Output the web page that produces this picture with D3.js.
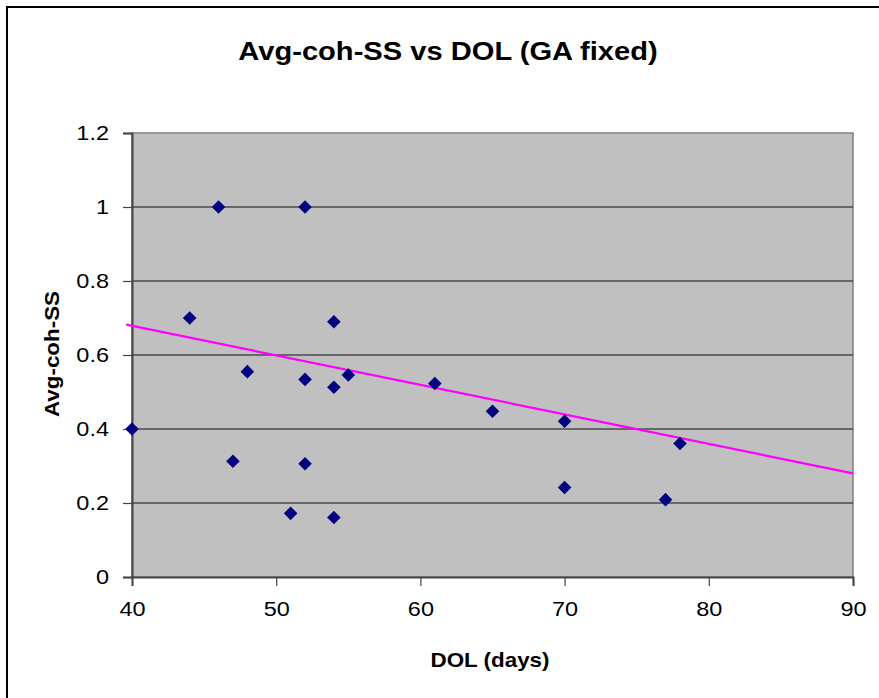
<!DOCTYPE html>
<html><head><meta charset="utf-8">
<script src="https://cdn.jsdelivr.net/npm/d3@7"></script>
<style>body{margin:0;background:#fff}svg{display:block}text{font-family:"Liberation Sans",Arial,sans-serif}</style>
</head><body>
<script>
const dol = [40,44,46,47,48,51,52,52,52,54,54,54,55,61,65,70,70,77,78];
const coh = [0.40,0.70,1.00,0.313,0.555,0.172,1.00,0.534,0.306,0.690,0.513,0.161,0.546,0.523,0.448,0.421,0.242,0.209,0.361];
const trendX = [39.6, 90];
const trendY = [0.682, 0.280];
const xTicks = [40,50,60,70,80,90];
const yTicks = [0,0.2,0.4,0.6,0.8,1,1.2];
const titleText = "Avg-coh-SS vs DOL (GA fixed)";
const xTitle = "DOL (days)";
const yTitle = "Avg-coh-SS";

const W=879,H=698;
const svg=d3.select("body").append("svg").attr("width",W).attr("height",H);
svg.append("rect").attr("x",7).attr("y",7).attr("width",1000).attr("height",1000)
  .attr("fill","#fff").attr("stroke","#000").attr("stroke-width",2);

const L=132,R=853,T=133,B=577;
const x=d3.scaleLinear().domain([40,90]).range([L,R]);
const y=d3.scaleLinear().domain([0,1.2]).range([B,T]);
const SX=1.12;

svg.append("rect").attr("x",L).attr("y",T).attr("width",R-L).attr("height",B-T)
  .attr("fill","#c0c0c0").attr("stroke","#808080").attr("stroke-width",1.5);

// gridlines
svg.append("g").selectAll("line").data(yTicks.filter(d=>d>0&&d<1.2)).join("line")
  .attr("x1",L).attr("x2",R).attr("y1",d=>y(d)).attr("y2",d=>y(d))
  .attr("stroke","#111").attr("stroke-width",1.2);

// y axis
const ya=svg.append("g").attr("transform",`translate(${L},0)`)
  .call(d3.axisLeft(y).tickValues(yTicks).tickFormat(d3.format("")).tickSize(9).tickPadding(14));
ya.select(".domain").attr("stroke","#444").attr("stroke-width",2);
ya.selectAll(".tick line").attr("stroke","#444").attr("stroke-width",1.2);
ya.selectAll(".tick text").attr("font-size",21).attr("fill","#000")
  .attr("font-family","Liberation Sans, Arial, sans-serif")
  .attr("x",-23/SX).attr("transform",`scale(${SX},1)`);

// x axis
const xa=svg.append("g").attr("transform",`translate(0,${B})`)
  .call(d3.axisBottom(x).tickValues(xTicks).tickSize(9).tickPadding(15));
xa.select(".domain").attr("stroke","#444").attr("stroke-width",2);
xa.selectAll(".tick line").attr("stroke","#444").attr("stroke-width",1.2);
xa.selectAll(".tick text").attr("font-size",21).attr("fill","#000")
  .attr("font-family","Liberation Sans, Arial, sans-serif")
  .attr("transform",`scale(${SX},1)`).attr("x",0);

// trend line
svg.append("path").datum(trendX.map((d,i)=>[d,trendY[i]]))
  .attr("d",d3.line().x(d=>x(d[0])).y(d=>y(d[1])))
  .attr("fill","none").attr("stroke","#ff00ff").attr("stroke-width",2.2);

// points
const dsz=6.8;
svg.append("g").selectAll("path").data(dol.map((d,i)=>[d,coh[i]])).join("path")
  .attr("transform",d=>`translate(${x(d[0])},${y(d[1])})`)
  .attr("d",`M0,${-dsz}L${dsz},0L0,${dsz}L${-dsz},0Z`)
  .attr("fill","#000080");

// titles
svg.append("g").attr("transform",`translate(448,60) scale(${SX},1)`)
  .append("text").attr("text-anchor","middle").attr("font-size",26).attr("font-weight","bold").text(titleText);
svg.append("g").attr("transform",`translate(490,667) scale(${SX},1)`)
  .append("text").attr("text-anchor","middle").attr("font-size",20).attr("font-weight","bold").text(xTitle);
svg.append("g").attr("transform",`translate(59,354) rotate(-90) scale(${SX},1)`)
  .append("text").attr("text-anchor","middle").attr("font-size",20).attr("font-weight","bold").text(yTitle);
</script>
</body></html>
